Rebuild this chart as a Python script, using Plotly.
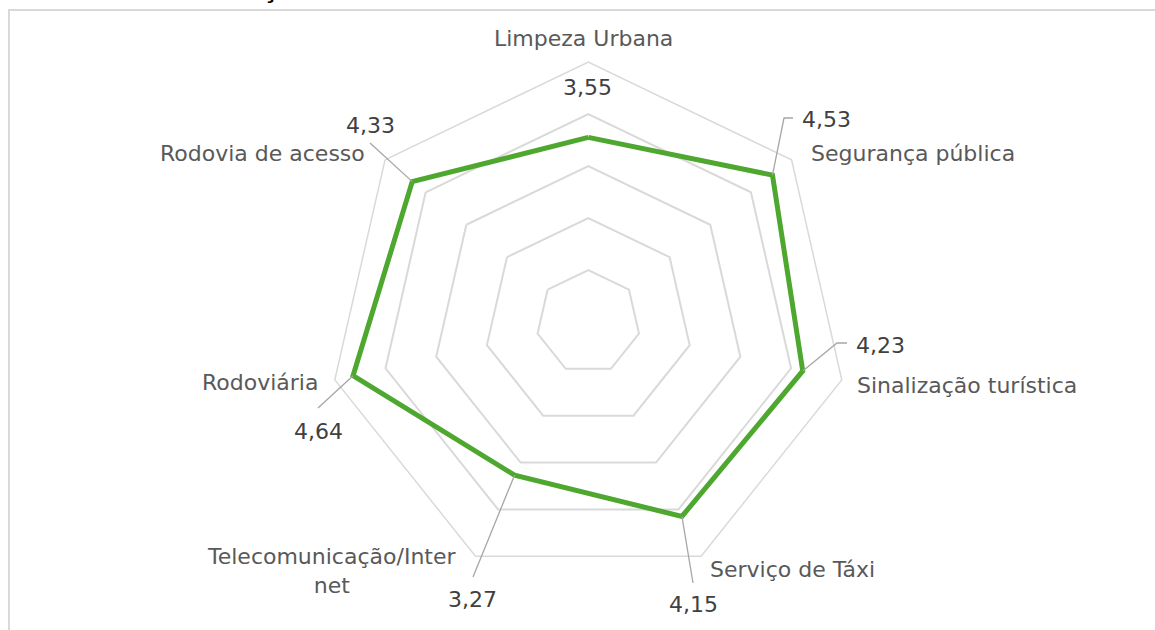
import math
import plotly.graph_objects as go

categories = ["Limpeza Urbana", "Segurança pública", "Sinalização turística",
              "Serviço de Táxi", "Telecomunicação/Inter net", "Rodoviária", "Rodovia de acesso"]
values = [3.55, 4.53, 4.23, 4.15, 3.27, 4.64, 4.33]
value_labels = ["3,55", "4,53", "4,23", "4,15", "3,27", "4,64", "4,33"]

W, H = 1155, 630
CX, CY, R = 588.3, 322.0, 260.0   # polar centre / radius in px
RMAX = 5

FONT = "DejaVu Sans"
FS = 22
TXT = "#595959"
LBL = "#404040"

fig = go.Figure()
fig.add_trace(go.Scatterpolar(
    r=values + [values[0]], theta=categories + [categories[0]],
    mode="lines", line=dict(color="#4EA72E", width=5), hoverinfo="skip",
    showlegend=False))

fig.update_layout(
    width=W, height=H, paper_bgcolor="white", plot_bgcolor="white",
    margin=dict(l=0, r=0, t=0, b=0),
    polar=dict(
        domain=dict(x=[(CX - R) / W, (CX + R) / W], y=[1 - (CY + R) / H, 1 - (CY - R) / H]),
        gridshape="linear", bgcolor="white",
        radialaxis=dict(range=[0, RMAX], dtick=1, showticklabels=False, ticks="",
                        showline=False, gridcolor="#D9D9D9", gridwidth=1.5),
        angularaxis=dict(direction="clockwise", rotation=90, showticklabels=False,
                         ticks="", showgrid=False, showline=True,
                         linecolor="#D9D9D9", linewidth=1.5),
    ),
)

def px(x, y):
    return x / W, 1 - y / H

def point(i):
    ang = math.radians(i * 360 / len(values))
    rr = values[i] / RMAX * R
    return CX + rr * math.sin(ang), CY - rr * math.cos(ang)

# category label positions (px)
cat_pos = [(583, 38), (913, 153), (967, 385), (792, 569), (331, 571), (260, 383), (262, 153)]
for name, (x, y) in zip(categories, cat_pos):
    xx, yy = px(x, y)
    text = name.replace("/Inter net", "/Inter<br>net")
    fig.add_annotation(x=xx, y=yy, xref="paper", yref="paper", text=text, showarrow=False,
                       xanchor="center", yanchor="middle", align="center",
                       font=dict(family=FONT, size=FS, color=TXT))

# value label positions and leader-line paths (px)
lab_pos = [(588, 88), (826, 119), (880, 345), (693, 604), (472, 599), (318, 431), (370, 126)]
leaders = [None, [(784, 118), (793, 118)], [(837, 343), (847, 343)], [(693, 583)],
           [(473, 577)], [(318, 408)], [(370, 143)]]
for i, (lab, (x, y)) in enumerate(zip(value_labels, lab_pos)):
    xx, yy = px(x, y)
    fig.add_annotation(x=xx, y=yy, xref="paper", yref="paper", text=lab, showarrow=False,
                       xanchor="center", yanchor="middle",
                       font=dict(family=FONT, size=FS, color=LBL))
    if leaders[i]:
        pts = [point(i)] + leaders[i]
        path = "M " + " L ".join(f"{px(a, b)[0]:.5f},{px(a, b)[1]:.5f}" for a, b in pts)
        fig.add_shape(type="path", path=path, xref="paper", yref="paper",
                      line=dict(color="#A6A6A6", width=1.3))

# chart border
fig.add_shape(type="path", xref="paper", yref="paper",
              path=f"M {px(9, H+5)[0]},{px(9, H+5)[1]} L {px(9, 10)[0]},{px(9, 10)[1]} L {px(W+5, 10)[0]},{px(W+5, 10)[1]}",
              line=dict(color="#D9D9D9", width=2))

# cropped title (only lower edge visible)
fig.add_annotation(x=12 / W, y=1 - 5 / H, xref="paper", yref="paper",
                   text="<b>Gráfico 14 – Avaliação da Infraestrutura Urbana</b>",
                   showarrow=False, xanchor="left", yanchor="bottom",
                   font=dict(family="Liberation Sans", size=28, color="black"))

fig.write_html("out.html", config={"displayModeBar": False},
               post_script="document.body.style.margin='0';document.body.style.overflow='hidden';")
